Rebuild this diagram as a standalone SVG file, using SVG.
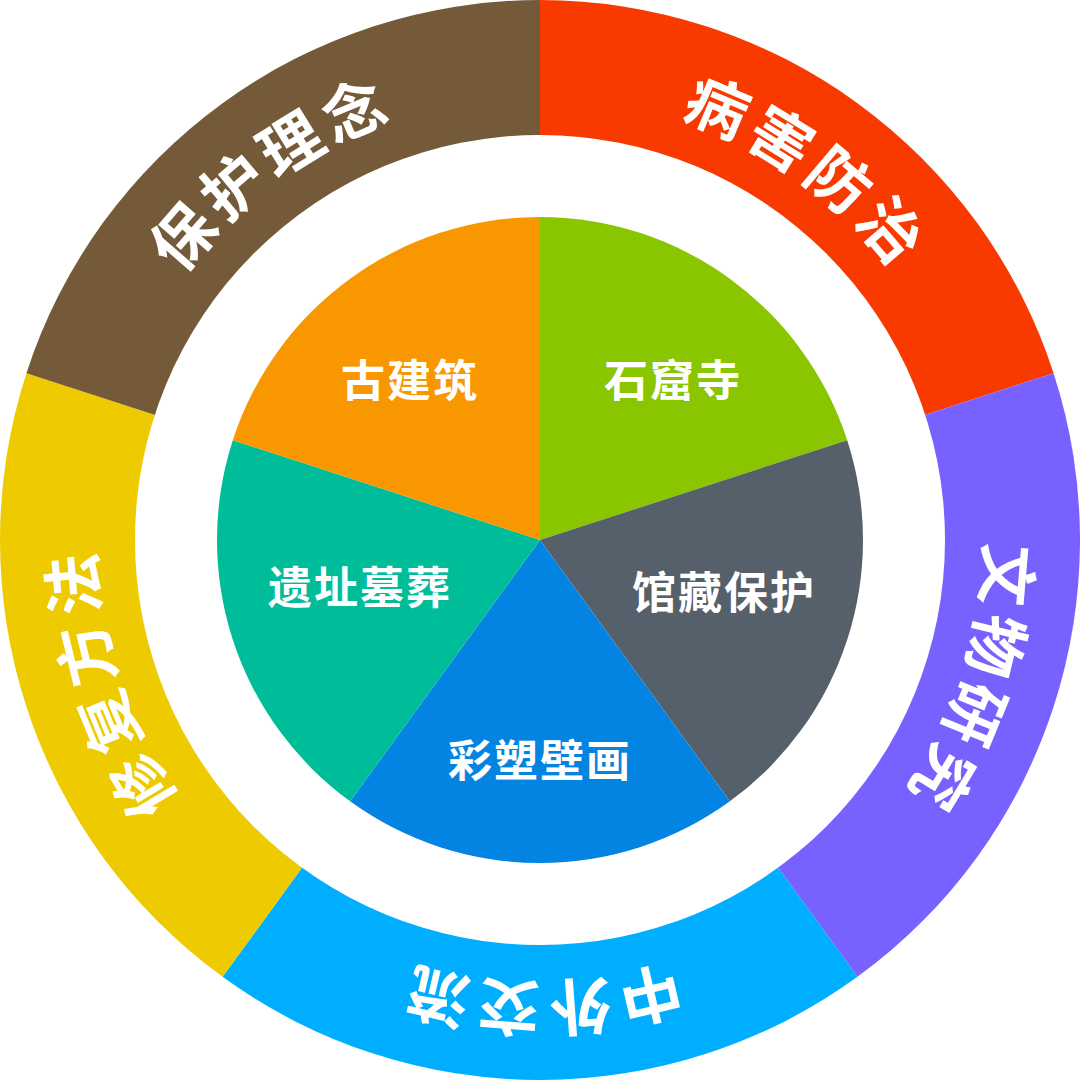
<svg xmlns="http://www.w3.org/2000/svg" xmlns:xlink="http://www.w3.org/1999/xlink" width="1080" height="1080" viewBox="0 0 1080 1080">
<style>
.ring{font-family:"Noto Sans CJK SC",sans-serif;font-size:62px;font-weight:bold;fill:#fff;letter-spacing:10px}
.lbl{font-family:"Noto Sans CJK SC",sans-serif;font-size:44px;font-weight:bold;fill:#fff;text-anchor:middle;dominant-baseline:central;letter-spacing:2px}
</style>
<defs>
<path id="circ" d="M540,68 A472,472 0 1 1 540,1012 A472,472 0 1 1 540,68"/>
</defs>
<rect width="1080" height="1080" fill="#fff"/>
<g id="outer">
<g id="n-bhfz"><path d="M540,540 L540,0 A540,540 0 0 1 1053.57,373.13Z" fill="#F93A00"/><text class="ring" dominant-baseline="central"><textPath xlink:href="#circ" startOffset="296.6" text-anchor="middle">病害防治</textPath></text></g>
<g id="n-wwyj"><path d="M540,540 L1053.57,373.13 A540,540 0 0 1 857.41,976.87Z" fill="#7862FF"/><text class="ring" dominant-baseline="central"><textPath xlink:href="#circ" startOffset="889.7" text-anchor="middle">文物研究</textPath></text></g>
<g id="n-zwjl"><path d="M540,540 L857.41,976.87 A540,540 0 0 1 222.59,976.87Z" fill="#00AEFF"/><text class="ring" dominant-baseline="central"><textPath xlink:href="#circ" startOffset="1482.8" text-anchor="middle">中外交流</textPath></text></g>
<g id="n-xfff"><path d="M540,540 L222.59,976.87 A540,540 0 0 1 26.43,373.13Z" fill="#EECB00"/><text class="ring" dominant-baseline="central"><textPath xlink:href="#circ" startOffset="2076" text-anchor="middle">修复方法</textPath></text></g>
<g id="n-bhln"><path d="M540,540 L26.43,373.13 A540,540 0 0 1 540,0Z" fill="#745A38"/><text class="ring" dominant-baseline="central"><textPath xlink:href="#circ" startOffset="2669.1" text-anchor="middle">保护理念</textPath></text></g>
</g>
<circle cx="540" cy="540" r="405" fill="#fff"/>
<g id="inner">
<g id="n-skqs"><path d="M540,540 L540,217 A323,323 0 0 1 847.19,440.19Z" fill="#8AC600"/><text class="lbl" x="673" y="378">石窟寺</text></g>
<g id="n-gcbh"><path d="M540,540 L847.19,440.19 A323,323 0 0 1 729.86,801.31Z" fill="#56606B"/><text class="lbl" x="724" y="590">馆藏保护</text></g>
<g id="n-csbh"><path d="M540,540 L729.86,801.31 A323,323 0 0 1 350.14,801.31Z" fill="#0484E2"/><text class="lbl" x="540" y="758">彩塑壁画</text></g>
<g id="n-yzmz"><path d="M540,540 L350.14,801.31 A323,323 0 0 1 232.81,440.19Z" fill="#00BD9A"/><text class="lbl" x="360" y="585">遗址墓葬</text></g>
<g id="n-gjz"><path d="M540,540 L232.81,440.19 A323,323 0 0 1 540,217Z" fill="#F99700"/><text class="lbl" x="410" y="378">古建筑</text></g>
</g>
<g id="connectors"/>
</svg>
